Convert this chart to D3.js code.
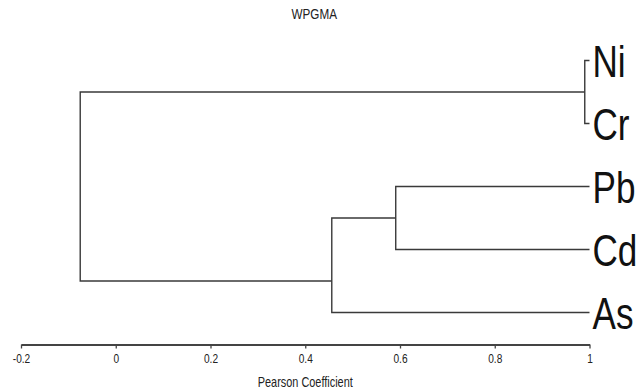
<!DOCTYPE html>
<html>
<head>
<meta charset="utf-8">
<script src="https://cdn.jsdelivr.net/npm/d3@7"></script>
<style>
  body { margin: 0; background: #fff; }
  svg text { font-family: "Liberation Sans", Arial, sans-serif; }
</style>
</head>
<body>
<svg id="chart" width="644" height="391"></svg>
<script>
// Leaves, top to bottom
const leaves = ["Ni", "Cr", "Pb", "Cd", "As"];
// Merges: two children, Pearson coefficient of the join, row of the join (in leaf rows)
const mergeLeft  = ["Ni", "Pb",    "Pb+Cd",    "Ni+Cr"];
const mergeRight = ["Cr", "Cd",    "As",       "Pb+Cd+As"];
const mergeValue = [0.99, 0.591,   0.456,      -0.075];
const mergeRow   = [0.5,  2.5,     3.5,        2.0];
const tickValues = [-0.2, 0, 0.2, 0.4, 0.6, 0.8, 1];
const leafValue = 1;

// narrow font is not installed, so squeeze text sideways
const squeeze = 0.78;

function narrowText(sel, px, py) {
  sel.attr("transform", (d, i) => `translate(${px(d, i)},${py(d, i)}) scale(${squeeze},1)`);
}

function showData() {
  var svg = d3.select("#chart");

  let x = d3.scaleLinear()
    .domain([-0.2, 1])
    .range([21, 589.5]);

  let y = d3.scaleLinear()
    .domain([0, leaves.length - 1])
    .range([60.5, 312.5]);

  // position of every node, leaves first
  let nodes = {};
  leaves.forEach((d, i) => nodes[d] = {x: x(leafValue), y: y(i)});

  let links = [];
  mergeLeft.forEach(function(a, i) {
    let b = mergeRight[i];
    let nx = x(mergeValue[i]);
    let ny = y(mergeRow[i]);
    nodes[a + "+" + b] = {x: nx, y: ny};
    // elbow from merge to each child
    links.push([[nodes[a].x, nodes[a].y], [nx, nodes[a].y], [nx, nodes[b].y], [nodes[b].x, nodes[b].y]]);
  });

  svg.append("g")
    .selectAll("path")
    .data(links)
    .enter().append("path")
      .attr("d", d3.line())
      .attr("fill", "none")
      .attr("stroke", "#3a3a3a")
      .attr("stroke-width", 1.4);

  // Leaf labels
  svg.append("g")
    .selectAll("text")
    .data(leaves)
    .enter().append("text")
      .call(narrowText, () => x(leafValue) + 3, (d, i) => y(i))
      .attr("dy", "0.36em")
      .style("font-size", "45px")
      .attr("fill", "#111")
      .text(d => d);

  // X-axis
  let axis = svg.append("g")
    .attr("transform", "translate(0,344.5)")
    .call(d3.axisBottom(x)
      .tickValues(tickValues)
      .tickSize(4)
      .tickSizeOuter(0)
      .tickFormat(d => String(d)));
  axis.select(".domain").attr("stroke", "#444").attr("stroke-width", 2);
  axis.selectAll(".tick line").attr("stroke", "#444").attr("stroke-width", 1.3);
  axis.selectAll(".tick text")
    .attr("y", null).attr("dy", null)
    .call(narrowText, () => 0, () => 18)
    .style("font-size", "13px")
    .attr("fill", "#222");

  let cx = (x(-0.2) + x(1)) / 2;

  svg.append("text")
    .call(narrowText, () => cx, () => 387)
    .attr("text-anchor", "middle")
    .style("font-size", "14px")
    .attr("fill", "#222")
    .text("Pearson Coefficient");

  svg.append("text")
    .call(narrowText, () => cx + 9, () => 19)
    .attr("text-anchor", "middle")
    .style("font-size", "15px")
    .attr("fill", "#222")
    .text("WPGMA");
}

showData();
</script>
</body>
</html>
